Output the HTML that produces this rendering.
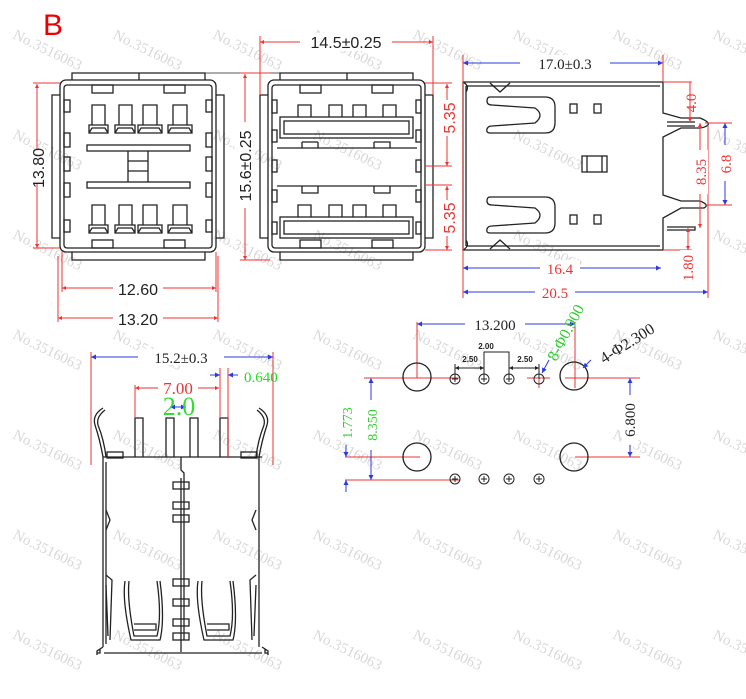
<!DOCTYPE html>
<html><head><meta charset="utf-8"><style>
html,body{margin:0;padding:0;background:#fff;width:746px;height:699px;overflow:hidden}
svg{display:block}
text{font-family:"Liberation Serif",serif}
.wm{fill:#d8d8d8;font-family:"Liberation Sans",sans-serif;font-size:15px}
.k{stroke:#222;fill:none;stroke-width:1.3}
.r{stroke:#e33;fill:none;stroke-width:1}
.b{stroke:#2b3be0;fill:none;stroke-width:1}
</style></head><body>
<svg width="746" height="699" viewBox="0 0 746 699" xmlns="http://www.w3.org/2000/svg">
<defs>
<marker id="ab" viewBox="0 0 10 10" refX="10" refY="5" markerWidth="7" markerHeight="5" orient="auto-start-reverse"><path d="M0,0L10,5L0,10z" fill="#2b3be0"/></marker>
<marker id="ar" viewBox="0 0 10 10" refX="10" refY="5" markerWidth="6" markerHeight="4" orient="auto-start-reverse"><path d="M0,0L10,5L0,10z" fill="#e33"/></marker>
<marker id="ak" viewBox="0 0 10 10" refX="10" refY="5" markerWidth="5" markerHeight="4" orient="auto-start-reverse"><path d="M0,0L10,5L0,10z" fill="#222"/></marker>
</defs>
<!-- watermarks -->
<g class="wm">
<g transform="translate(12,38) rotate(26)"><text>No.3516063</text></g>
<g transform="translate(112,38) rotate(26)"><text>No.3516063</text></g>
<g transform="translate(212,38) rotate(26)"><text>No.3516063</text></g>
<g transform="translate(312,38) rotate(26)"><text>No.3516063</text></g>
<g transform="translate(412,38) rotate(26)"><text>No.3516063</text></g>
<g transform="translate(512,38) rotate(26)"><text>No.3516063</text></g>
<g transform="translate(612,38) rotate(26)"><text>No.3516063</text></g>
<g transform="translate(712,38) rotate(26)"><text>No.3516063</text></g>
<g transform="translate(12,138) rotate(26)"><text>No.3516063</text></g>
<g transform="translate(212,138) rotate(26)"><text>No.3516063</text></g>
<g transform="translate(312,138) rotate(26)"><text>No.3516063</text></g>
<g transform="translate(512,138) rotate(26)"><text>No.3516063</text></g>
<g transform="translate(712,138) rotate(26)"><text>No.3516063</text></g>
<g transform="translate(12,238) rotate(26)"><text>No.3516063</text></g>
<g transform="translate(212,238) rotate(26)"><text>No.3516063</text></g>
<g transform="translate(312,238) rotate(26)"><text>No.3516063</text></g>
<g transform="translate(512,238) rotate(26)"><text>No.3516063</text></g>
<g transform="translate(712,238) rotate(26)"><text>No.3516063</text></g>
<g transform="translate(12,338) rotate(26)"><text>No.3516063</text></g>
<g transform="translate(112,338) rotate(26)"><text>No.3516063</text></g>
<g transform="translate(212,338) rotate(26)"><text>No.3516063</text></g>
<g transform="translate(312,338) rotate(26)"><text>No.3516063</text></g>
<g transform="translate(412,338) rotate(26)"><text>No.3516063</text></g>
<g transform="translate(512,338) rotate(26)"><text>No.3516063</text></g>
<g transform="translate(612,338) rotate(26)"><text>No.3516063</text></g>
<g transform="translate(712,338) rotate(26)"><text>No.3516063</text></g>
<g transform="translate(12,438) rotate(26)"><text>No.3516063</text></g>
<g transform="translate(112,438) rotate(26)"><text>No.3516063</text></g>
<g transform="translate(212,438) rotate(26)"><text>No.3516063</text></g>
<g transform="translate(312,438) rotate(26)"><text>No.3516063</text></g>
<g transform="translate(412,438) rotate(26)"><text>No.3516063</text></g>
<g transform="translate(512,438) rotate(26)"><text>No.3516063</text></g>
<g transform="translate(612,438) rotate(26)"><text>No.3516063</text></g>
<g transform="translate(712,438) rotate(26)"><text>No.3516063</text></g>
<g transform="translate(12,538) rotate(26)"><text>No.3516063</text></g>
<g transform="translate(112,538) rotate(26)"><text>No.3516063</text></g>
<g transform="translate(212,538) rotate(26)"><text>No.3516063</text></g>
<g transform="translate(312,538) rotate(26)"><text>No.3516063</text></g>
<g transform="translate(412,538) rotate(26)"><text>No.3516063</text></g>
<g transform="translate(512,538) rotate(26)"><text>No.3516063</text></g>
<g transform="translate(612,538) rotate(26)"><text>No.3516063</text></g>
<g transform="translate(712,538) rotate(26)"><text>No.3516063</text></g>
<g transform="translate(12,638) rotate(26)"><text>No.3516063</text></g>
<g transform="translate(112,638) rotate(26)"><text>No.3516063</text></g>
<g transform="translate(212,638) rotate(26)"><text>No.3516063</text></g>
<g transform="translate(312,638) rotate(26)"><text>No.3516063</text></g>
<g transform="translate(412,638) rotate(26)"><text>No.3516063</text></g>
<g transform="translate(512,638) rotate(26)"><text>No.3516063</text></g>
<g transform="translate(612,638) rotate(26)"><text>No.3516063</text></g>
<g transform="translate(712,638) rotate(26)"><text>No.3516063</text></g>
</g>

<text x="43" y="35" font-size="30" fill="#e00" style="font-family:'Liberation Sans',sans-serif">B</text>

<!-- LEFT FRONT VIEW -->
<g class="k">
<rect x="60" y="80" width="156" height="172" rx="6"/>
<rect x="64" y="85" width="148" height="163" rx="3"/>
<path d="M72,80V73H205V80M139,73V80"/>
<path d="M72,252V260H205V252"/>
<path d="M60,95H52V238H60M216,95H224V238H216"/>
<rect x="92" y="85" width="21" height="8"/><rect x="164" y="85" width="21" height="8"/>
<rect x="92" y="240" width="21" height="8"/><rect x="164" y="240" width="21" height="8"/>
<rect x="64" y="100" width="6" height="12"/><rect x="64" y="133" width="6" height="14"/><rect x="64" y="157" width="6" height="14"/><rect x="64" y="183" width="6" height="14"/><rect x="64" y="220" width="6" height="12"/>
<rect x="206" y="100" width="6" height="12"/><rect x="206" y="133" width="6" height="14"/><rect x="206" y="157" width="6" height="14"/><rect x="206" y="183" width="6" height="14"/><rect x="206" y="220" width="6" height="12"/>
<g id="ct">
<path d="M89,133V125H108V133ZM92,125V105H105V125M89,133l3,-5h13l3,5"/>
<path d="M115,133V125H135V133ZM119,125V105H132V125M115,133l3,-5h14l3,5"/>
<path d="M138,133V125H162V133ZM143,125V105H157V125M138,133l3,-5h18l3,5"/>
<path d="M168,133V125H192V133ZM173,125V105H187V125M168,133l3,-5h18l3,5"/>
</g>
<use href="#ct" transform="translate(0,100)"/>
<rect x="87" y="145" width="103" height="6"/>
<rect x="87" y="182" width="103" height="6"/>
<path d="M128,151V182M148,151V182M128,161H148M128,171H148"/>
</g>
<path d="M139,73H300" stroke="#222" stroke-width="0.8"/>
<g class="r">
<path d="M33,83H60M33,248H60"/>
<path d="M37,84V248" marker-start="url(#ar)" marker-end="url(#ar)"/>
<path d="M62,252V292M216,252V292M58,256V322M218,256V322"/>
<path d="M62,288H216" marker-start="url(#ar)" marker-end="url(#ar)"/>
<path d="M58,318H218" marker-start="url(#ar)" marker-end="url(#ar)"/>
</g>
<rect x="27" y="150" width="22" height="34" fill="#fff"/>
<text transform="translate(44,168) rotate(-90)" font-size="16" fill="#222" text-anchor="middle" style="font-family:'Liberation Sans',sans-serif">13.80</text>
<rect x="113" y="280" width="50" height="16" fill="#fff"/>
<text x="138" y="295" font-size="16" fill="#222" text-anchor="middle" style="font-family:'Liberation Sans',sans-serif">12.60</text>
<rect x="113" y="310" width="50" height="16" fill="#fff"/>
<text x="138" y="325" font-size="16" fill="#222" text-anchor="middle" style="font-family:'Liberation Sans',sans-serif">13.20</text>

<!-- RIGHT FRONT VIEW -->
<g class="k">
<rect x="268" y="80" width="157" height="172" rx="6"/>
<rect x="272" y="85" width="149" height="163" rx="3"/>
<path d="M280,80V73H413V80M347,73V80M280,252V260H413V252"/>
<path d="M268,95H260V238H268M425,95H433V238H425"/>
<rect x="300" y="85" width="21" height="8"/><rect x="372" y="85" width="21" height="8"/>
<rect x="300" y="240" width="21" height="8"/><rect x="372" y="240" width="21" height="8"/>
<path d="M277,148H417M277,186H417"/>
<rect x="280" y="117" width="133" height="21"/><rect x="284" y="121" width="125" height="13"/>
<rect x="280" y="217" width="133" height="21"/><rect x="284" y="221" width="125" height="13"/>
<path d="M298,117V105H311V117M329,117V105H342V117M353,117V105H366V117M383,117V105H396V117"/>
<path d="M298,217V205H311V217M329,217V205H342V217M353,217V205H366V217M383,217V205H396V217"/>
<path d="M302,142V148M318,142V148M302,142H318M374,142H390V148M374,142V148"/>
<path d="M302,186V193H318V186M374,193H390V186M374,193V186"/>
<rect x="272" y="100" width="5" height="13"/><rect x="272" y="130" width="5" height="12"/><rect x="272" y="160" width="5" height="12"/><rect x="272" y="190" width="5" height="12"/><rect x="272" y="222" width="5" height="12"/>
<rect x="416" y="100" width="5" height="13"/><rect x="416" y="130" width="5" height="12"/><rect x="416" y="160" width="5" height="12"/><rect x="416" y="190" width="5" height="12"/><rect x="416" y="222" width="5" height="12"/>
</g>
<g class="r">
<path d="M260,36V95M433,36V95"/>
<path d="M260,42H433" marker-start="url(#ar)" marker-end="url(#ar)"/>
<path d="M240,73H270M240,260H270"/>
<path d="M245,74V260" marker-start="url(#ar)" marker-end="url(#ar)"/>
<path d="M425,83H452M425,166H452M425,185H452M425,250H452"/>
<path d="M447,84V166" marker-start="url(#ar)" marker-end="url(#ar)"/>
<path d="M447,186V250" marker-start="url(#ar)" marker-end="url(#ar)"/>
</g>
<rect x="300" y="33" width="92" height="18" fill="#fff"/>
<text x="346" y="48" font-size="16" fill="#222" text-anchor="middle" style="font-family:'Liberation Sans',sans-serif">14.5±0.25</text>
<rect x="235" y="122" width="20" height="86" fill="#fff"/>
<text transform="translate(251,166) rotate(-90)" font-size="16" fill="#222" text-anchor="middle" style="font-family:'Liberation Sans',sans-serif">15.6±0.25</text>
<rect x="440" y="100" width="18" height="36" fill="#fff"/>
<text transform="translate(455,118) rotate(-90)" font-size="16" fill="#e33" text-anchor="middle" style="font-family:'Liberation Sans',sans-serif">5.35</text>
<rect x="440" y="200" width="18" height="36" fill="#fff"/>
<text transform="translate(455,218) rotate(-90)" font-size="16" fill="#e33" text-anchor="middle" style="font-family:'Liberation Sans',sans-serif">5.35</text>

<!-- SIDE VIEW -->
<g class="k">
<path d="M463,82H663V113L681,118H700Q710,122 708,125Q704,128 700,128H681L663,137V195L681,201H700Q710,205 704,208H681L663,218V250H463Z"/>
<path d="M466,86V246"/>
<path d="M463,82Q470,86 466,92M463,250Q470,246 466,240"/>
<path d="M466,86H660M466,246H660"/>
<path d="M490,83L500,92L510,83M490,249L500,240L510,249"/>
<path d="M490,97H545Q555,97 555,107V123Q555,133 545,133H490Q486,133 487,129Q488,126 492,126L535,123Q545,115 535,108L492,105Q487,105 487,101Q487,97 490,97Z"/>
<path d="M490,197H545Q555,197 555,207V223Q555,233 545,233H490Q486,233 487,229Q488,226 492,226L535,223Q545,215 535,208L492,205Q487,205 487,201Q487,197 490,197Z"/>
<rect x="570" y="104" width="7" height="9"/><rect x="594" y="104" width="7" height="9"/>
<rect x="570" y="215" width="7" height="9"/><rect x="594" y="215" width="7" height="9"/>
<rect x="582" y="156" width="25" height="16"/><path d="M587,156V172M602,156V172"/>
<path d="M667,122H695M667,126H695M667,227H695V230H667"/>
</g>
<g class="b">
<path d="M463,63H663" marker-start="url(#ab)" marker-end="url(#ab)"/>
<path d="M463,268H661" marker-start="url(#ab)" marker-end="url(#ab)"/>
<path d="M463,292H708" marker-start="url(#ab)" marker-end="url(#ab)"/>
<path d="M725,123V205" marker-start="url(#ab)" marker-end="url(#ab)"/>
</g>
<g class="r">
<path d="M463,55V298M663,55V82M708,125V298M663,82H692M705,123H732M705,205H732M663,250H692"/>
<path d="M690,82V122" marker-end="url(#ar)"/>
<path d="M700,123V228" marker-start="url(#ar)" marker-end="url(#ar)"/>
<path d="M688,228V250" marker-start="url(#ar)" marker-end="url(#ar)"/>
</g>
<rect x="520" y="55" width="90" height="16" fill="#fff"/>
<text x="565" y="69" font-size="15" fill="#222" text-anchor="middle">17.0±0.3</text>
<rect x="540" y="260" width="40" height="16" fill="#fff"/>
<text x="560" y="274" font-size="15" fill="#e33" text-anchor="middle">16.4</text>
<rect x="535" y="284" width="40" height="16" fill="#fff"/>
<text x="555" y="298" font-size="15" fill="#e33" text-anchor="middle">20.5</text>
<text transform="translate(696,103) rotate(-90)" font-size="15" fill="#e33" text-anchor="middle">4.0</text>
<rect x="692" y="150" width="16" height="44" fill="#fff"/>
<text transform="translate(706,172) rotate(-90)" font-size="15" fill="#e33" text-anchor="middle">8.35</text>
<rect x="718" y="145" width="16" height="36" fill="#fff"/>
<text transform="translate(731,164) rotate(-90)" font-size="15" fill="#e33" text-anchor="middle">6.8</text>
<rect x="680" y="250" width="16" height="36" fill="#fff"/>
<text transform="translate(693,268) rotate(-90)" font-size="15" fill="#e33" text-anchor="middle">1.80</text>

<!-- BOTTOM VIEW -->
<g class="k">
<path d="M103,457H262M103,457V647M259,457V647M106,462V644"/>
<path d="M97,655V651L103,647M268,655V651L262,647M97,653H100V649M268,653H265V649M104,653H262"/>
<path d="M103,457Q100,440 95,425Q92,415 103,408M106,457Q104,440 98,425Q96,417 105,410"/>
<path d="M259,457Q262,440 267,425Q270,415 259,408M256,457Q258,440 264,425Q266,417 257,410"/>
<rect x="107" y="452" width="16" height="6"/><rect x="241" y="452" width="16" height="6"/>
<path d="M135,457V418H143V457M166,457V418H174V457M190,457V418H198V457M220,457V418H228V457"/>
<path d="M181,457V470L184,473V478M181,478V652M184,478V640"/>
<rect x="173" y="482" width="16" height="7"/><rect x="173" y="502" width="16" height="7"/><rect x="173" y="515" width="16" height="7"/>
<rect x="173" y="579" width="16" height="7"/><rect x="173" y="599" width="16" height="7"/><rect x="173" y="619" width="16" height="7"/><rect x="173" y="633" width="16" height="7"/>
<path d="M125,581Q122,600 131,640H160Q165,620 160,581M129,581Q127,600 134,636H157Q162,616 157,581M134,624H156V630H134"/>
<path d="M198,581Q195,600 204,640H233Q238,620 233,581M202,581Q200,600 207,636H230Q235,616 230,581M207,624H229V630H207"/>
<path d="M106,575L112,580L110,640M106,585L108,636M256,575L250,580L252,640M256,585L254,636M106,510L110,520L106,530M256,510L252,520L256,530"/>
</g>
<g class="r">
<path d="M91,352V465M273,352V465M135,385V418M220,368V418M228,368V457"/>
<path d="M135,388H219" marker-start="url(#ar)" marker-end="url(#ar)"/>
</g>
<g class="b">
<path d="M91,357H273" marker-start="url(#ab)" marker-end="url(#ab)"/>
<path d="M210,375H220" marker-end="url(#ab)"/>
<path d="M238,375H228" marker-end="url(#ab)"/>
<path d="M170,407H186" marker-start="url(#ab)" marker-end="url(#ab)"/>
</g>
<rect x="138" y="349" width="86" height="16" fill="#fff"/>
<text x="181" y="363" font-size="15" fill="#222" text-anchor="middle">15.2±0.3</text>
<text x="244" y="382" font-size="15" fill="#2d2">0.640</text>
<rect x="158" y="380" width="40" height="14" fill="#fff"/>
<text x="178" y="394" font-size="17" fill="#e33" text-anchor="middle">7.00</text>
<text x="179" y="415" font-size="26" fill="#3d3" text-anchor="middle">2.0</text>

<!-- FOOTPRINT -->
<g class="r" stroke-width="1.3">
<path d="M364,378H460M417,322V378M527,378H550M539,370V388M575,322V388M565,378H600M345,457H420M575,457H640M345,480H460M590,378H640"/>
</g>
<g class="k">
<circle cx="417" cy="377" r="14"/><circle cx="574" cy="376" r="14"/>
<circle cx="417" cy="457" r="14"/><circle cx="574" cy="457" r="14"/>
<g stroke-width="1">
<circle cx="455" cy="379" r="5"/><circle cx="484" cy="379" r="5"/><circle cx="509" cy="379" r="5"/><circle cx="539" cy="379" r="5"/>
<circle cx="455" cy="479" r="5"/><circle cx="484" cy="479" r="5"/><circle cx="509" cy="479" r="5"/><circle cx="539" cy="479" r="5"/>
<path d="M452,379h6M455,376v6M481,379h6M484,376v6M506,379h6M509,376v6M452,479h6M455,476v6M481,479h6M484,476v6M506,479h6M509,476v6M536,479h6M539,476v6"/>
<path d="M455,379V364M484,379V364M509,379V364M539,379V364"/>
<path d="M484,364V352H509V364"/>
<path d="M455,368H484" marker-start="url(#ak)" marker-end="url(#ak)"/>
<path d="M509,368H539" marker-start="url(#ak)" marker-end="url(#ak)"/>
</g>
</g>
<g class="b">
<path d="M417,324H575" marker-start="url(#ab)" marker-end="url(#ab)"/>
<path d="M371,378V480" marker-start="url(#ab)" marker-end="url(#ab)"/>
<path d="M346,445V457" marker-end="url(#ab)"/>
<path d="M346,492V480" marker-end="url(#ab)"/>
<path d="M630,378V457" marker-start="url(#ab)" marker-end="url(#ab)"/>
<path d="M591,360L583,368" marker-end="url(#ab)"/>
<path d="M549,360L542,373" marker-end="url(#ab)"/>
</g>
<rect x="465" y="315" width="60" height="17" fill="#fff"/>
<text x="495" y="330" font-size="15" fill="#222" text-anchor="middle">13.200</text>
<text x="486" y="349" font-size="8" fill="#222" text-anchor="middle" font-weight="bold" style="font-family:'Liberation Sans',sans-serif">2.00</text>
<text x="470" y="362" font-size="8" fill="#222" text-anchor="middle" font-weight="bold" style="font-family:'Liberation Sans',sans-serif">2.50</text>
<text x="525" y="362" font-size="8" fill="#222" text-anchor="middle" font-weight="bold" style="font-family:'Liberation Sans',sans-serif">2.50</text>
<text transform="translate(556,362) rotate(-62)" font-size="16" fill="#3c3">8-Φ0.900</text>
<text transform="translate(604,364) rotate(-32)" font-size="16" fill="#222">4-Φ2.300</text>
<rect x="364" y="400" width="16" height="50" fill="#fff"/>
<text transform="translate(377,425) rotate(-90)" font-size="14" fill="#3c3" text-anchor="middle">8.350</text>
<text transform="translate(352,423) rotate(-90)" font-size="14" fill="#3c3" text-anchor="middle">1.773</text>
<rect x="622" y="395" width="16" height="50" fill="#fff"/>
<text transform="translate(635,420) rotate(-90)" font-size="15" fill="#222" text-anchor="middle">6.800</text>
</svg>
</body></html>
